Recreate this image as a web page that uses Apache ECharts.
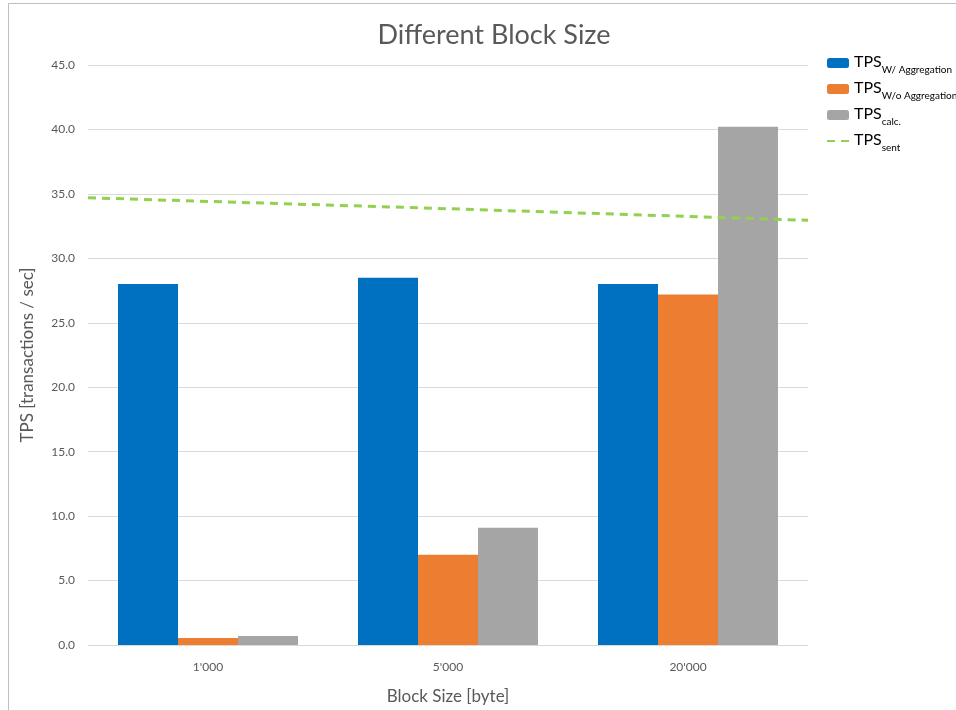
<!DOCTYPE html>
<html>
<head>
<meta charset="utf-8">
<script src="https://cdn.jsdelivr.net/npm/echarts@6/dist/echarts.min.js"></script>
<style>html,body{margin:0;padding:0;background:#fff}#c{width:956px;height:710px}</style>
</head>
<body>
<div id="c"></div>
<script>
const categories = ["1'000", "5'000", "20'000"];
const tpsWithAgg = [28.0, 28.5, 28.0];
const tpsWithoutAgg = [0.55, 7.0, 27.2];
const tpsCalc = [0.7, 9.1, 40.2];
const tpsSent = [34.7, 33.85, 32.95];
const yTicks = {min: 0, max: 45, interval: 5};

const FONT = 'Lato';
const TXT = '#595959';
const chart = echarts.init(document.getElementById('c'), null, {renderer: 'canvas'});

const legendNames = {
  a: '{m|TPS}{s|W/ Aggregation}',
  b: '{m|TPS}{s|W/o Aggregation}',
  c: '{m|TPS}{s|calc.}',
  d: '{m|TPS}{s|sent}'
};

chart.setOption({
  animation: false,
  textStyle: {fontFamily: FONT},
  title: {
    text: 'Different Block Size',
    left: 489, top: 17, textAlign: 'center',
    textStyle: {fontFamily: FONT, fontSize: 27, fontWeight: 'normal', color: TXT}
  },
  graphic: [{
    type: 'rect', shape: {x: 8.5, y: 3.5, width: 980, height: 730},
    style: {fill: null, stroke: '#bfbfbf', lineWidth: 1}, silent: true
  }],
  legend: {
    orient: 'vertical', left: 821, top: 49,
    itemWidth: 22, itemHeight: 10, itemGap: 5,
    data: ['a', 'b', 'c', {name: 'd', itemStyle: {opacity: 0}}],
    formatter: n => legendNames[n],
    textStyle: {
      color: '#000', fontFamily: FONT,
      rich: {
        m: {fontSize: 16, fontFamily: FONT, color: '#000', lineHeight: 24, verticalAlign: 'bottom', padding: [0, 0, 5, 0]},
        s: {fontSize: 10, fontFamily: FONT, color: '#000', lineHeight: 24, verticalAlign: 'bottom', padding: [0, 0, 0, 0]}
      }
    }
  },
  grid: {left: 88, right: 148, top: 65, bottom: 65, containLabel: false},
  xAxis: [{
    type: 'category', data: categories,
    axisLine: {show: true, lineStyle: {color: '#d9d9d9', width: 1}},
    axisTick: {show: false},
    axisLabel: {color: TXT, fontSize: 12, fontFamily: FONT, margin: 16},
    name: 'Block Size [byte]', nameLocation: 'middle', nameGap: 43,
    nameTextStyle: {color: TXT, fontSize: 17, fontFamily: FONT}
  }, {
    type: 'category', data: ['p0', 'p1', 'p2'], boundaryGap: false, show: false
  }],
  yAxis: {
    type: 'value', min: yTicks.min, max: yTicks.max, interval: yTicks.interval,
    axisLine: {show: false}, axisTick: {show: false},
    splitLine: {lineStyle: {color: '#d9d9d9', width: 1}},
    axisLabel: {color: TXT, fontSize: 12, fontFamily: FONT, margin: 13, formatter: v => v.toFixed(1)},
    name: 'TPS [transactions / sec]', nameLocation: 'middle', nameGap: 52,
    nameTextStyle: {color: TXT, fontSize: 17, fontFamily: FONT}
  },
  series: [
    {name: 'a', type: 'bar', data: tpsWithAgg, barWidth: 60, barGap: '0%', itemStyle: {color: '#0070c0'}},
    {name: 'b', type: 'bar', data: tpsWithoutAgg, barWidth: 60, barGap: '0%', itemStyle: {color: '#ed7d31'}},
    {name: 'c', type: 'bar', data: tpsCalc, barWidth: 60, barGap: '0%', itemStyle: {color: '#a5a5a5'}},
    {name: 'd', type: 'line', xAxisIndex: 1, data: tpsSent, showSymbol: false, symbol: 'none',
     lineStyle: {color: '#92d050', width: 3, type: [8, 6]}, itemStyle: {color: '#92d050'}}
  ]
});
</script>
</body>
</html>
